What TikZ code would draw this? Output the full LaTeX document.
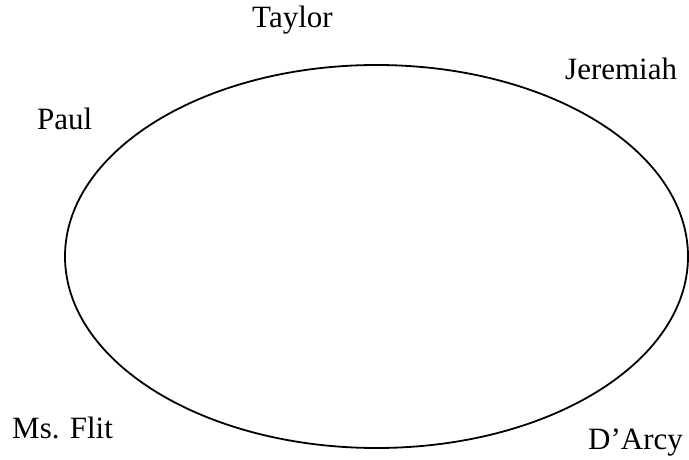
\documentclass[tikz,border=0pt]{standalone}
\usepackage{fontspec}
\setmainfont{Liberation Serif}
\usepackage{xcolor}

\begin{document}
\begin{tikzpicture}[x=1pt,y=1pt,
    namelabel/.style={anchor=base west, inner sep=0pt, font=\fontsize{31}{36}\selectfont}]
      \useasboundingbox (0,0) rectangle (689,459);
      % Round table
      \draw[black, line width=1.8pt] (376.5,202.5) ellipse (311.5 and 191.5);
      % Seats round the table
      \node[namelabel] (taylor)   at (252,431) {Taylor};
      \node[namelabel] (jeremiah) at (565,379) {Jeremiah};
      \node[namelabel] (paul)     at (37,329)  {Paul};
      \node[namelabel] (msflit)   at (12,21)   {Ms. Flit};
      \node[namelabel] (darcy)    at (588,10)  {D’Arcy};
    \end{tikzpicture}
\end{document}
